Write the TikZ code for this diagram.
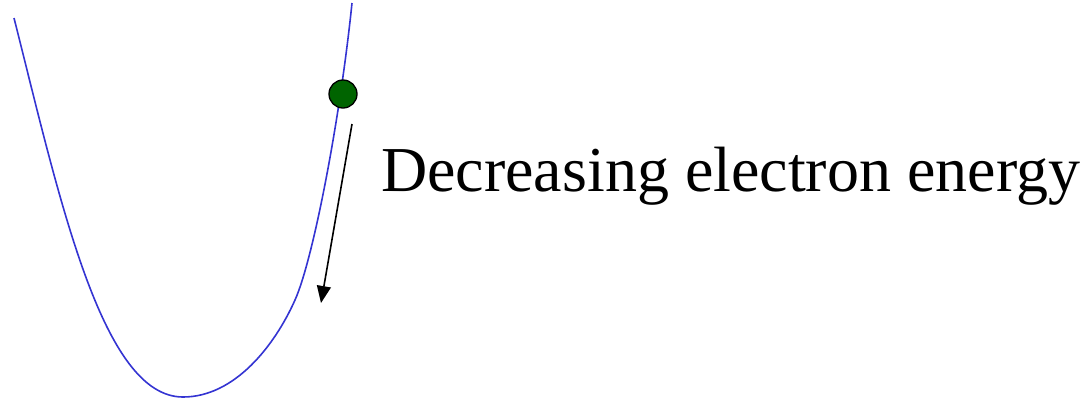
\documentclass[tikz,border=0pt]{standalone}
\usepackage{fontspec}
\setmainfont{Liberation Serif}
\usetikzlibrary{arrows.meta}
\definecolor{wellblue}{RGB}{52,52,210}
\definecolor{ballgreen}{RGB}{0,100,0}

\begin{document}
\begin{tikzpicture}[x=1bp,y=-1bp,>={Triangle[length=17bp,width=14bp]}]
  \useasboundingbox (0,0) rectangle (1090,401);
  % potential well
  \draw[wellblue,line width=1.6bp] (14,18) .. controls (60,200) and (102,397) .. (183,397)
    .. controls (235,397) and (275,345) .. (295,300)
    .. controls (313,260) and (340,120) .. (352,3);
  % electron sitting on the wall
  \node[circle,draw=black,fill=ballgreen,line width=1.3bp,minimum size=28bp,inner sep=0pt] (ball) at (343,94) {};
  % direction of motion
  \coordinate (start) at (352,124);
  \coordinate (stop) at (321,303);
  \draw[->,line width=1.6bp] (start) -- (stop);
  \node[anchor=base west,inner sep=0pt,font=\fontsize{64bp}{76bp}\selectfont] (label) at (381,191) {Decreasing electron energy};
\end{tikzpicture}
\end{document}
